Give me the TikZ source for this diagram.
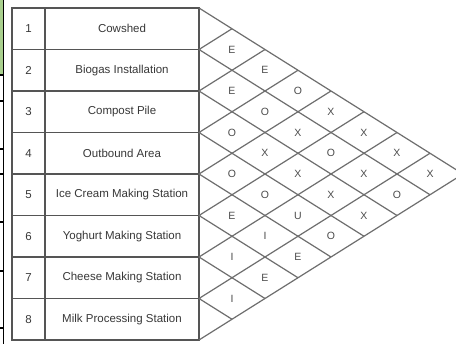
\documentclass[tikz,border=0pt]{standalone}
\usepackage{fontspec}
\setmainfont{Liberation Sans}
\usetikzlibrary{positioning}
\definecolor{cellgreen}{HTML}{A9D08E}
\definecolor{linegray}{HTML}{555555}
\definecolor{textgray}{HTML}{383838}

\begin{document}
\begin{tikzpicture}[x=1pt,y=-1pt,node distance=0pt]

	\tikzstyle{every node}=[font=\fontsize{11.5}{13}\selectfont,text=textgray]
	\tikzstyle{num cell}=[rectangle,draw=linegray,line width=1.4pt,minimum width=33pt,minimum height=41.5pt,inner sep=0pt,outer sep=0pt]
	\tikzstyle{name cell}=[num cell,minimum width=154pt]
	\tikzstyle{grid line}=[draw=linegray!85,line width=1.2pt]
	\tikzstyle{rel}=[font=\fontsize{10.5}{12}\selectfont,text=textgray!90,inner sep=0pt]

	\clip (0,0) rectangle (456,344);
	\fill[white] (0,0) rectangle (456,344);

	% edge of the sheet on the left
	\fill[cellgreen] (0,0) rectangle (3,75);
	\draw[line width=1.8pt] (3.5,0) -- (3.5,344);
	\draw[line width=1.5pt] (0,75) -- (3.5,75) (0,101) -- (3.5,101) (0,149) -- (3.5,149) (0,174) -- (3.5,174)
	(0,222) -- (3.5,222) (0,271) -- (3.5,271) (0,328) -- (3.5,328);

	% activity list
	\node[num cell,anchor=north west] (no1) at (12,8) {1};
	\node[name cell] (area1) [right=of no1] {Cowshed};
	\node[num cell]  (no2) [below=of no1] {2};
	\node[name cell] (area2) [right=of no2] {Biogas Installation};
	\node[num cell]  (no3) [below=of no2] {3};
	\node[name cell] (area3) [right=of no3] {Compost Pile};
	\node[num cell]  (no4) [below=of no3] {4};
	\node[name cell] (area4) [right=of no4] {Outbound Area};
	\node[num cell]  (no5) [below=of no4] {5};
	\node[name cell] (area5) [right=of no5] {Ice Cream Making Station};
	\node[num cell]  (no6) [below=of no5] {6};
	\node[name cell] (area6) [right=of no6] {Yoghurt Making Station};
	\node[num cell]  (no7) [below=of no6] {7};
	\node[name cell] (area7) [right=of no7] {Cheese Making Station};
	\node[num cell]  (no8) [below=of no7] {8};
	\node[name cell] (area8) [right=of no8] {Milk Processing Station};

	% relationship diamonds
	\begin{scope}[shift={(199,8)},x=33pt,y=-20.75pt]
		\draw[grid line] (0,0) -- (8,8);
		\draw[grid line] (0,2) -- (7,9) (0,2) -- (1,1);
		\draw[grid line] (0,4) -- (6,10) (0,4) -- (2,2);
		\draw[grid line] (0,6) -- (5,11) (0,6) -- (3,3);
		\draw[grid line] (0,8) -- (4,12) (0,8) -- (4,4);
		\draw[grid line] (0,10) -- (3,13) (0,10) -- (5,5);
		\draw[grid line] (0,12) -- (2,14) (0,12) -- (6,6);
		\draw[grid line] (0,14) -- (1,15) (0,14) -- (7,7);
		\draw[grid line] (0,16) -- (8,8);

		\node[rel] (r12) at (1,2) {E};
		\node[rel] (r13) at (2,3) {E};
		\node[rel] (r14) at (3,4) {O};
		\node[rel] (r15) at (4,5) {X};
		\node[rel] (r16) at (5,6) {X};
		\node[rel] (r17) at (6,7) {X};
		\node[rel] (r18) at (7,8) {X};
		\node[rel] (r23) at (1,4) {E};
		\node[rel] (r24) at (2,5) {O};
		\node[rel] (r25) at (3,6) {X};
		\node[rel] (r26) at (4,7) {O};
		\node[rel] (r27) at (5,8) {X};
		\node[rel] (r28) at (6,9) {O};
		\node[rel] (r34) at (1,6) {O};
		\node[rel] (r35) at (2,7) {X};
		\node[rel] (r36) at (3,8) {X};
		\node[rel] (r37) at (4,9) {X};
		\node[rel] (r38) at (5,10) {X};
		\node[rel] (r45) at (1,8) {O};
		\node[rel] (r46) at (2,9) {O};
		\node[rel] (r47) at (3,10) {U};
		\node[rel] (r48) at (4,11) {O};
		\node[rel] (r56) at (1,10) {E};
		\node[rel] (r57) at (2,11) {I};
		\node[rel] (r58) at (3,12) {E};
		\node[rel] (r67) at (1,12) {I};
		\node[rel] (r68) at (2,13) {E};
		\node[rel] (r78) at (1,14) {I};
	\end{scope}

\end{tikzpicture}
\end{document}
